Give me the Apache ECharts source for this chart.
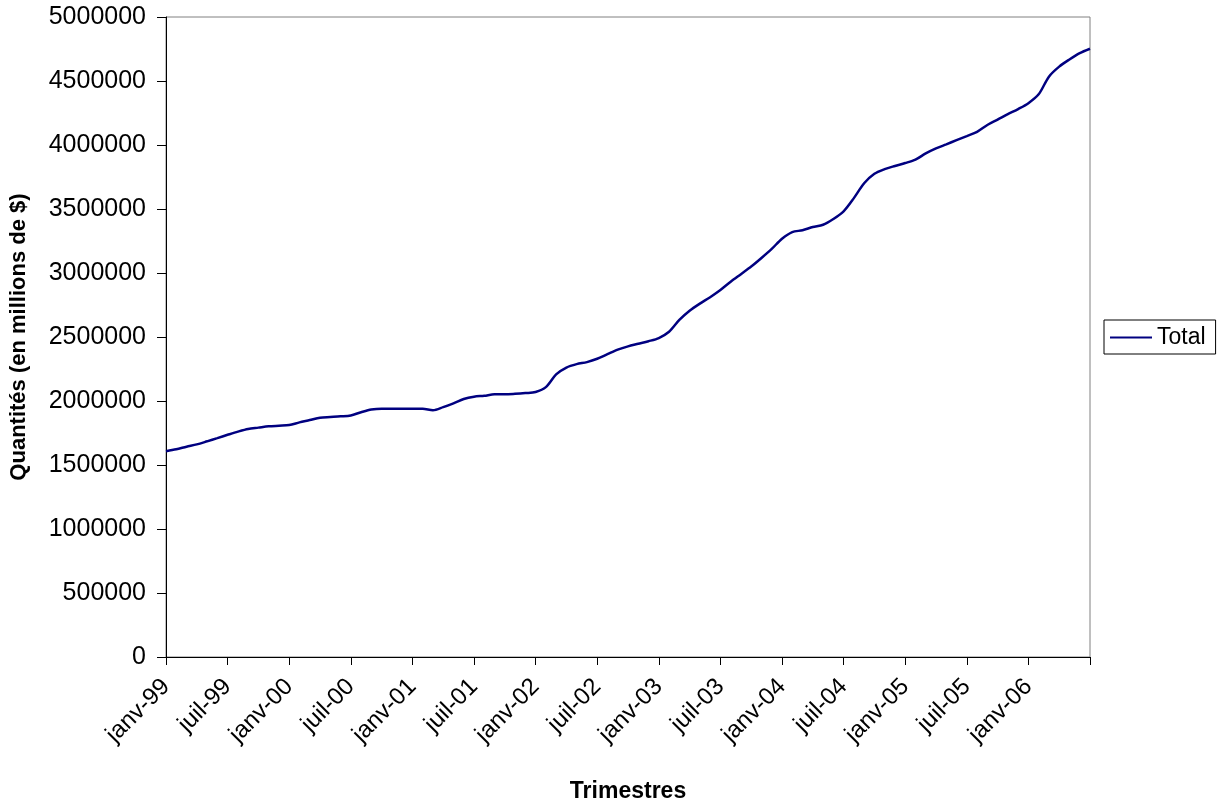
<!DOCTYPE html>
<html>
<head>
<meta charset="utf-8">
<script src="https://cdn.jsdelivr.net/npm/echarts@6/dist/echarts.min.js"></script>
<style>
html,body{margin:0;padding:0;background:#fff;}
#chart{width:1222px;height:803px;}
</style>
</head>
<body>
<div id="chart"></div>
<script>
// Monthly categories janv-99 .. juil-06
const monthNames = ['janv','févr','mars','avr','mai','juin','juil','août','sept','oct','nov','déc'];
const years = ['99','00','01','02','03','04','05','06'];
const categories = [];
for (const y of years) for (const m of monthNames) categories.push(m + '-' + y);
categories.length = 91;

const totalValues = [
  1608000, 1623000, 1643000, 1661000, 1685000, 1710000,
  1736000, 1761000, 1782000, 1792000, 1802000, 1807000,
  1812000, 1833000, 1851000, 1870000, 1875000, 1880000,
  1887000, 1912000, 1933000, 1940000, 1940000, 1940000,
  1940000, 1940000, 1928000, 1952000, 1982000, 2016000,
  2034000, 2041000, 2052000, 2052000, 2056000, 2062000,
  2070000, 2108000, 2208000, 2261000, 2288000, 2304000,
  2330000, 2366000, 2401000, 2427000, 2447000, 2467000,
  2492000, 2541000, 2633000, 2705000, 2761000, 2811000,
  2867000, 2932000, 2991000, 3050000, 3117000, 3188000,
  3268000, 3320000, 3334000, 3359000, 3377000, 3422000,
  3482000, 3585000, 3701000, 3775000, 3811000, 3836000,
  3859000, 3886000, 3934000, 3973000, 4005000, 4038000,
  4070000, 4103000, 4156000, 4198000, 4241000, 4281000,
  4327000, 4396000, 4534000, 4612000, 4668000, 4717000,
  4752000
];

const yTicks = [0, 500000, 1000000, 1500000, 2000000, 2500000, 3000000, 3500000, 4000000, 4500000, 5000000];

const font = 'Liberation Sans, Arial, sans-serif';
const chart = echarts.init(document.getElementById('chart'));
chart.setOption({
  animation: false,
  backgroundColor: '#ffffff',
  grid: {
    left: 166, right: 132, top: 17, bottom: 146,
    containLabel: false,
    outerBoundsMode: 'none',
    show: true, borderColor: '#808080', borderWidth: 1, backgroundColor: 'transparent'
  },
  legend: {
    data: ['Total'],
    left: 1104, top: 320,
    orient: 'vertical',
    icon: 'rect',
    itemWidth: 42, itemHeight: 2,
    itemGap: 6,
    padding: [6, 10, 5, 6],
    borderColor: '#000', borderWidth: 1,
    textStyle: { fontFamily: font, fontSize: 23, color: '#000' }
  },
  xAxis: {
    type: 'category',
    data: categories,
    boundaryGap: false,
    name: 'Trimestres',
    nameLocation: 'middle',
    nameGap: 123,
    nameTextStyle: { fontFamily: font, fontSize: 23, fontWeight: 'bold', color: '#000' },
    axisLine: { lineStyle: { color: '#000', width: 1 } },
    axisTick: { show: true, length: 8, interval: 5, lineStyle: { color: '#000' } },
    axisLabel: {
      interval: (i) => i % 6 === 0 && i < 90,
      rotate: 45,
      margin: 26,
      fontFamily: font, fontSize: 24, color: '#000'
    },
    splitLine: { show: false }
  },
  yAxis: {
    type: 'value',
    min: yTicks[0], max: yTicks[yTicks.length - 1], interval: 500000,
    name: 'Quantités (en millions de $)',
    nameLocation: 'middle',
    nameGap: 136,
    nameRotate: 90,
    nameTextStyle: { fontFamily: font, fontSize: 22, fontWeight: 'bold', color: '#000' },
    axisLine: { show: true, lineStyle: { color: '#000', width: 1 } },
    axisTick: { show: true, length: 9, lineStyle: { color: '#000' } },
    axisLabel: { margin: 20, fontFamily: font, fontSize: 25, color: '#000', formatter: (v) => String(v) },
    splitLine: { show: false }
  },
  series: [{
    name: 'Total',
    type: 'line',
    data: totalValues,
    symbol: 'none',
    smooth: 0.3,
    lineStyle: { color: '#000080', width: 2.5 },
    itemStyle: { color: '#000080' }
  }]
});
</script>
</body>
</html>
